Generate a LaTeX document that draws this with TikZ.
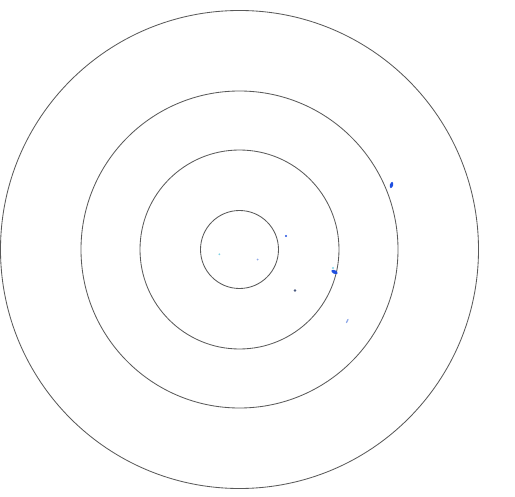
\documentclass[tikz,border=0pt]{standalone}
\usepackage{tikz}
\usetikzlibrary{positioning}
\definecolor{ringgray}{HTML}{5A5A5A}
\definecolor{blipblue}{HTML}{1F4FE0}
\definecolor{blipcyan}{HTML}{7FD3E6}
\definecolor{blippale}{HTML}{8FA8E8}
\definecolor{blipslate}{HTML}{4A5A80}
\begin{document}
\begin{tikzpicture}[x=0.025cm,y=0.025cm, ring/.style={draw=ringgray,line width=0.6pt}, blip/.style={fill=blipblue}]
  \useasboundingbox (0,0) rectangle (515,496);
  \coordinate (ctr) at (239.5,246.5);
  % range rings
  \foreach \r in {39,99.5,158.5,239}{
    \draw[ring] (ctr) circle[radius=\r];
  }
  % echoes
  \fill[blip,rotate around={-15:(391.5,311)}] (391.5,311) ellipse[x radius=1.6,y radius=3.2];
  \fill[blip] (286,260) circle[radius=1.2];
  \fill[blip,rotate around={-25:(334.5,224)}] (334.5,224) ellipse[x radius=3.4,y radius=1.8];
  \fill[blipcyan] (333,228) circle[radius=1.1];
  \fill[blipslate] (295,205.5) circle[radius=1.3];
  \draw[blippale,line width=0.8pt,line cap=round] (346.5,173.5)--(348,176.5);
  \fill[blipcyan] (219.3,241.7) circle[radius=1];
  \fill[blippale] (257.7,236.5) circle[radius=1];
\end{tikzpicture}
\end{document}
